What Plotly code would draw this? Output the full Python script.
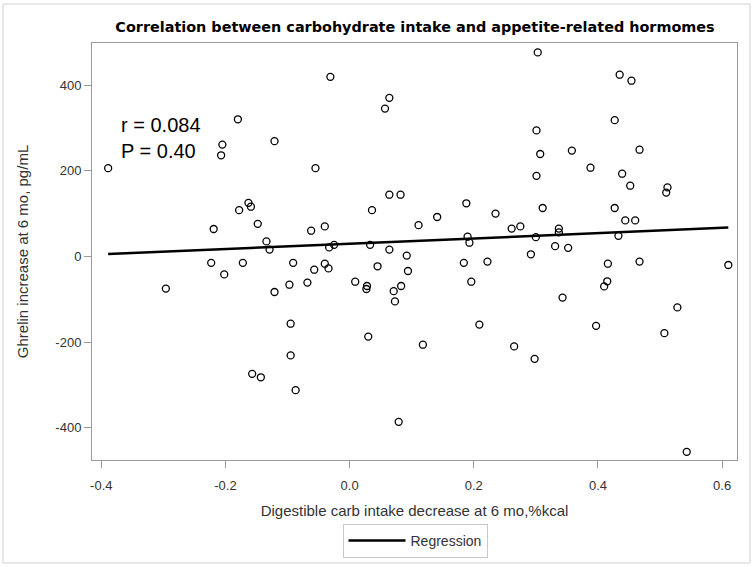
import numpy as np
import plotly.graph_objects as go

# Digestible carb intake decrease at 6 mo (%kcal) vs Ghrelin increase at 6 mo (pg/mL)
carb_decrease = [
    -0.180, -0.121, -0.205, -0.207, -0.389, -0.163, -0.159, -0.178, -0.148, -0.219,
    -0.134, -0.129, -0.031, 0.064, 0.057, -0.055, 0.064, 0.082, 0.188, 0.036,
    0.235, 0.141, 0.111, -0.040, -0.062, 0.261, 0.275, 0.190, 0.193, -0.025,
    -0.033, 0.033, 0.064, 0.303, 0.435, 0.454, 0.427, 0.301, 0.467, 0.358,
    0.307, 0.388, 0.439, 0.301, 0.452, 0.512, 0.510, 0.311, 0.427, 0.444,
    0.460, 0.337, 0.337, 0.300, 0.433, 0.331, 0.352, -0.223, -0.172, -0.091,
    -0.202, -0.296, -0.097, -0.121, -0.068, -0.095, -0.095, -0.157, -0.143, -0.087,
    0.092, -0.057, -0.040, -0.034, 0.045, 0.094, 0.009, 0.028, 0.027, 0.083,
    0.071, 0.073, 0.030, 0.118, 0.079, 0.184, 0.222, 0.196, 0.209, 0.265,
    0.292, 0.416, 0.467, 0.610, 0.415, 0.410, 0.343, 0.528, 0.397, 0.507,
    0.298, 0.543,
]
ghrelin_increase = [
    320, 269, 261, 236, 206, 125, 116, 108, 76, 64,
    35, 16, 419, 370, 345, 206, 144, 144, 124, 108,
    100, 92, 73, 70, 60, 65, 70, 46, 32, 27,
    21, 27, 16, 476, 424, 410, 318, 294, 249, 247,
    239, 207, 193, 188, 165, 161, 149, 113, 113, 84,
    84, 65, 56, 45, 48, 24, 20, -15, -15, -15,
    -42, -75, -66, -83, -61, -157, -231, -274, -282, -312,
    2, -31, -17, -28, -23, -34, -59, -69, -76, -69,
    -81, -105, -187, -206, -386, -15, -12, -59, -159, -210,
    5, -17, -12, -20, -58, -70, -96, -119, -162, -179,
    -239, -456,
]

x_ticks = [-0.4, -0.2, 0.0, 0.2, 0.4, 0.6]
x_tick_labels = ["-0.4", "-0.2", "0.0", "0.2", "0.4", "0.6"]
y_ticks = [-400, -200, 0, 200, 400]
y_tick_labels = ["-400", "-200", "0", "200", "400"]

stats_text = "r = 0.084<br>P = 0.40"

x = np.array(carb_decrease)
y = np.array(ghrelin_increase)
slope, intercept = np.polyfit(x, y, 1)
x_line = np.array([x.min(), x.max()])
y_line = intercept + slope * x_line

fig = go.Figure()
fig.add_trace(go.Scatter(
    x=carb_decrease, y=ghrelin_increase, mode="markers",
    marker=dict(symbol="circle-open", size=7, color="black", line=dict(width=1.3, color="black")),
    showlegend=False, hoverinfo="x+y",
))
fig.add_trace(go.Scatter(
    x=x_line, y=y_line, mode="lines", name="Regression",
    line=dict(color="black", width=2.5),
))

W, H = 754, 567
ml, mr, mt, mb = 92, 17, 43, 107
pw, ph = W - ml - mr, H - mt - mb

def px_to_paper_x(px):
    return (px - ml) / pw

def py_to_paper_y(py):
    return (H - mb - py) / ph

FONT = "Arial, Liberation Sans, sans-serif"

axis_common = dict(
    showline=True, linecolor="#9a9a9a", linewidth=1, mirror=True,
    ticks="outside", ticklen=7, tickcolor="#9a9a9a", tickwidth=1,
    showgrid=False, zeroline=False, automargin=False,
    tickfont=dict(family=FONT, size=13, color="#333333"),
)

fig.update_layout(
    width=W, height=H,
    margin=dict(l=ml, r=mr, t=mt, b=mb, autoexpand=False),
    paper_bgcolor="white", plot_bgcolor="white",
    title=dict(
        text="<b>Correlation between carbohydrate intake and appetite-related hormomes</b>",
        x=px_to_paper_x(415), xref="paper", xanchor="center",
        y=1 - 27 / H, yanchor="middle",
        font=dict(family="DejaVu Sans, Verdana, sans-serif", size=14.4, color="black"),
    ),
    xaxis=dict(
        range=[-0.415, 0.624], tickvals=x_ticks, ticktext=x_tick_labels,
        ticklabelstandoff=6,
        title=dict(text="Digestible carb intake decrease at 6 mo,%kcal", standoff=13,
                   font=dict(family=FONT, size=15, color="#333333")),
        **axis_common,
    ),
    yaxis=dict(
        range=[-475, 498], tickvals=y_ticks, ticktext=y_tick_labels,
        title=dict(text="Ghrelin increase at 6 mo, pg/mL", standoff=23,
                   font=dict(family=FONT, size=15, color="#333333")),
        **axis_common,
    ),
    legend=dict(
        x=px_to_paper_x(415), xanchor="center",
        y=py_to_paper_y(524), yanchor="top",
        orientation="h", bordercolor="#c8c8c8", borderwidth=1,
        font=dict(family=FONT, size=14, color="#333333"),
        itemwidth=57,
    ),
    annotations=[dict(
        text=stats_text, xref="paper", yref="paper",
        x=px_to_paper_x(119), xanchor="left",
        y=py_to_paper_y(138), yanchor="middle",
        showarrow=False, align="left",
        font=dict(family=FONT, size=20, color="black"),
    )],
    shapes=[dict(
        type="rect", xref="paper", yref="paper",
        x0=px_to_paper_x(3), x1=px_to_paper_x(750),
        y0=py_to_paper_y(563), y1=py_to_paper_y(4),
        line=dict(color="#d0d0d0", width=1), fillcolor="rgba(0,0,0,0)", layer="below",
    )],
)

fig.write_html("out.html", config={"displayModeBar": False},
               post_script="document.body.style.margin='0';")
